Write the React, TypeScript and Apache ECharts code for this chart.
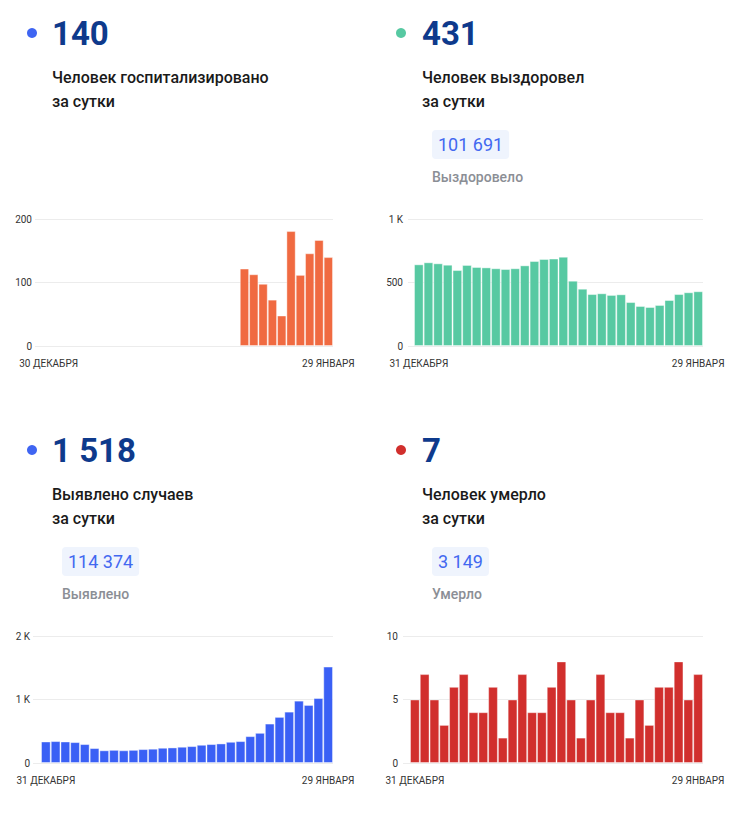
import React, { useEffect, useRef } from "react";
import * as echarts from "echarts";

// ---- data ----
const hospitalized: (number | null)[] = [
  null, null, null, null, null, null, null, null, null, null, null,
  null, null, null, null, null, null, null, null, null, null,
  122, 113, 98, 73, 48, 181, 112, 146, 167, 140,
];
const recovered: number[] = [
  643, 659, 651, 640, 598, 638, 622, 619, 612, 606, 612, 635, 669, 685, 688,
  703, 514, 451, 409, 415, 402, 407, 346, 315, 307, 323, 362, 409, 423, 431,
];
const cases: number[] = [
  339, 345, 339, 329, 298, 235, 200, 207, 200, 207, 219, 225, 240, 245, 256,
  266, 287, 298, 308, 334, 345, 423, 475, 621, 726, 809, 982, 914, 1023, 1518,
];
const deaths: number[] = [
  5, 7, 5, 3, 6, 7, 4, 4, 6, 2, 5, 7, 4, 4, 6, 8, 5, 2, 5, 7, 4, 4, 2, 5, 3,
  6, 6, 8, 5, 7,
];

const startLabels = ["30 ДЕКАБРЯ", "31 ДЕКАБРЯ", "31 ДЕКАБРЯ", "31 ДЕКАБРЯ"];
const endLabel = "29 ЯНВАРЯ";

const headlineValues = ["140", "431", "1 518", "7"];
const captionLine1 = [
  "Человек госпитализировано",
  "Человек выздоровел",
  "Выявлено случаев",
  "Человек умерло",
];
const captionLine2 = "за сутки";
const totals: (string | null)[] = [null, "101 691", "114 374", "3 149"];
const totalLabels: (string | null)[] = [null, "Выздоровело", "Выявлено", "Умерло"];

const yMax = [200, 1000, 2000, 10];
const yInterval = [100, 500, 1000, 5];

const barColors = ["#F06A41", "#57C9A2", "#3A60F5", "#D12F2D"];
const dotColors = ["#3F65F2", "#57C9A2", "#3F65F2", "#D12F2D"];

const seriesData = [hospitalized, recovered, cases, deaths];

// ---- layout ----
const FONT = "Roboto, 'Noto Sans', sans-serif";
const panels = [
  { tx: 52, dx: 32, oy: 0, gridLeft: 35, barsLeft: 44, right: 333, labelMargin: 3 },
  { tx: 422, dx: 401, oy: 0, gridLeft: 408, barsLeft: 414, right: 703, labelMargin: 5 },
  { tx: 52, dx: 32, oy: 417, gridLeft: 33, barsLeft: 41, right: 333, labelMargin: 3 },
  { tx: 422, dx: 401, oy: 417, gridLeft: 403, barsLeft: 410, right: 703, labelMargin: 5 },
];

const fmtY = (v: number) => (v >= 1000 ? `${v / 1000} K` : `${v}`);

export default function App() {
  const ref = useRef<HTMLDivElement>(null);
  useEffect(() => {
    if (!ref.current) return;
    const chart = echarts.init(ref.current, undefined, { renderer: "svg" });

    const grids: any[] = [];
    const xAxes: any[] = [];
    const yAxes: any[] = [];
    const series: any[] = [];
    const graphic: any[] = [];

    panels.forEach((p, i) => {
      const data = seriesData[i];
      const n = data.length;
      const catW = (p.right - p.barsLeft) / n;
      const pad = (p.barsLeft - p.gridLeft) / catW;
      grids.push({
        left: p.gridLeft,
        width: p.right - p.gridLeft,
        top: 219 + p.oy,
        height: 127,
      });
      xAxes.push({
        type: "value",
        gridIndex: i,
        min: -0.5 - pad,
        max: n - 0.5,
        axisLine: { show: false },
        axisTick: { show: false },
        splitLine: { show: false },
        axisLabel: {
          customValues: [0, n - 1],
          margin: 12,
          color: "#333",
          fontSize: 10,
          fontFamily: FONT,
          formatter: (v: number) => (v === 0 ? startLabels[i] : endLabel),
        },
      });
      yAxes.push({
        type: "value",
        gridIndex: i,
        min: 0,
        max: yMax[i],
        interval: yInterval[i],
        axisLine: { show: false },
        axisTick: { show: false },
        splitLine: { show: true, lineStyle: { color: "#ECECEC", width: 1 } },
        axisLabel: {
          margin: p.labelMargin,
          color: "#333",
          fontSize: 10,
          fontFamily: FONT,
          formatter: fmtY,
        },
      });
      series.push({
        type: "bar",
        xAxisIndex: i,
        yAxisIndex: i,
        barCategoryGap: "0%",
        data: data
          .map((v, k) => [k, v])
          .filter((d) => d[1] !== null),
        itemStyle: {
          color: barColors[i],
          borderColor: "rgba(255,255,255,0.4)",
          borderWidth: 1,
        },
        silent: true,
      });

      // header
      graphic.push({
        type: "circle",
        shape: { cx: p.dx, cy: 33 + p.oy, r: 5 },
        style: { fill: dotColors[i] },
      });
      graphic.push({
        type: "text",
        x: p.tx,
        y: 33 + p.oy,
        style: {
          text: headlineValues[i],
          fontSize: 33,
          fontWeight: 700,
          fontFamily: FONT,
          fill: "#0E3A8C",
          align: "left",
          verticalAlign: "middle",
          textAlign: "left",
          textVerticalAlign: "middle",
        },
      });
      graphic.push({
        type: "text",
        x: p.tx,
        y: 77.5 + p.oy,
        style: {
          text: captionLine1[i],
          fontSize: 16,
          fontWeight: 500,
          fontFamily: FONT,
          fill: "#1A1A1A",
          align: "left",
          verticalAlign: "middle",
          textAlign: "left",
          textVerticalAlign: "middle",
        },
      });
      graphic.push({
        type: "text",
        x: p.tx,
        y: 101.5 + p.oy,
        style: {
          text: captionLine2,
          fontSize: 16,
          fontWeight: 500,
          fontFamily: FONT,
          fill: "#1A1A1A",
          align: "left",
          verticalAlign: "middle",
          textAlign: "left",
          textVerticalAlign: "middle",
        },
      });
      if (totals[i]) {
        graphic.push({
          type: "text",
          x: p.tx + 10,
          y: 130 + p.oy,
          style: {
            text: totals[i],
            fontSize: 18,
            fontWeight: 400,
            fontFamily: FONT,
            fill: "#4268F0",
            lineHeight: 19,
            padding: [5, 6, 5, 6],
            backgroundColor: "#EFF4FD",
            borderRadius: 4,
            align: "left",
            verticalAlign: "top",
            textAlign: "left",
            textVerticalAlign: "top",
          },
        });
        graphic.push({
          type: "text",
          x: p.tx + 10,
          y: 177 + p.oy,
          style: {
            text: totalLabels[i],
            fontSize: 14,
            fontWeight: 500,
            fontFamily: FONT,
            fill: "#8B8E95",
            align: "left",
            verticalAlign: "middle",
            textAlign: "left",
            textVerticalAlign: "middle",
          },
        });
      }
    });

    chart.setOption({
      animation: false,
      textStyle: { fontFamily: FONT },
      grid: grids,
      xAxis: xAxes,
      yAxis: yAxes,
      series,
      graphic,
    });
    return () => chart.dispose();
  }, []);

  return (
    <div
      ref={ref}
      style={{ position: "absolute", left: 0, top: 0, width: 753, height: 820, background: "#fff" }}
    />
  );
}
